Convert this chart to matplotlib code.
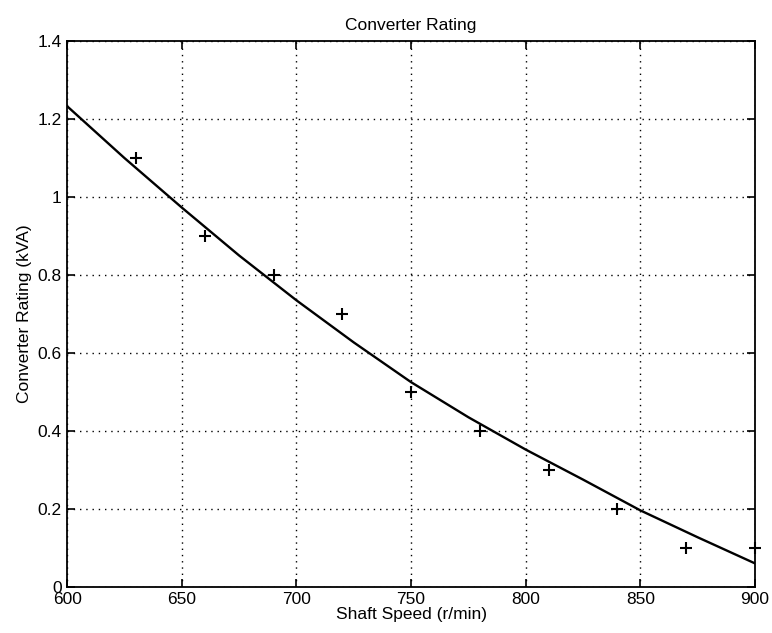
#! /usr/bin/env python

'''
Converter rating vs shaft speed, MATLAB-style plot.
'''

import matplotlib
matplotlib.use('Agg')
import matplotlib.pyplot as plt
from matplotlib.ticker import FormatStrFormatter

# measured points
speed_pts = [630, 660, 690, 720, 750, 780, 810, 840, 870, 900]
rating_pts = [1.1, 0.9, 0.8, 0.7, 0.5, 0.4, 0.3, 0.2, 0.1, 0.1]

# fitted curve
speed_fit = [600, 625, 650, 675, 700, 725, 750, 775, 800, 825, 850, 875, 900]
rating_fit = [1.233, 1.10, 0.973, 0.85, 0.735, 0.627, 0.525, 0.435, 0.352,
              0.275, 0.196, 0.127, 0.060]

x_ticks = [600, 650, 700, 750, 800, 850, 900]
y_ticks = [0, 0.2, 0.4, 0.6, 0.8, 1.0, 1.2, 1.4]


def make_plot():
    plt.rcParams['font.family'] = ['Liberation Sans', 'DejaVu Sans']
    fig = plt.figure(figsize=(7.72, 6.33), dpi=100)
    ax = fig.add_axes([0.087, 0.073, 0.891, 0.862])

    ax.plot(speed_fit, rating_fit, color='black', lw=1.7)
    ax.plot(speed_pts, rating_pts, '+', color='black', ms=9, mew=1.5,
            clip_on=False)

    ax.set_xlim(600, 900)
    ax.set_ylim(0, 1.4)
    ax.set_xticks(x_ticks)
    ax.set_yticks(y_ticks)
    ax.yaxis.set_major_formatter(FormatStrFormatter('%g'))
    ax.tick_params(direction='in', top=True, right=True, length=6,
                   width=1.2, labelsize=12.5, pad=4)
    ax.grid(True, linestyle=(0, (1, 3.5)), color='black', lw=1.0)
    for s in ax.spines.values():
        s.set_linewidth(1.3)

    ax.set_title('Converter Rating', fontsize=12.5, pad=8)
    ax.set_xlabel('Shaft Speed (r/min)', fontsize=12.5, labelpad=0)
    ax.set_ylabel('Converter Rating (kVA)', fontsize=12.5, labelpad=4)

    fig.savefig('out.png', dpi=100)


if __name__ == '__main__':
    make_plot()
